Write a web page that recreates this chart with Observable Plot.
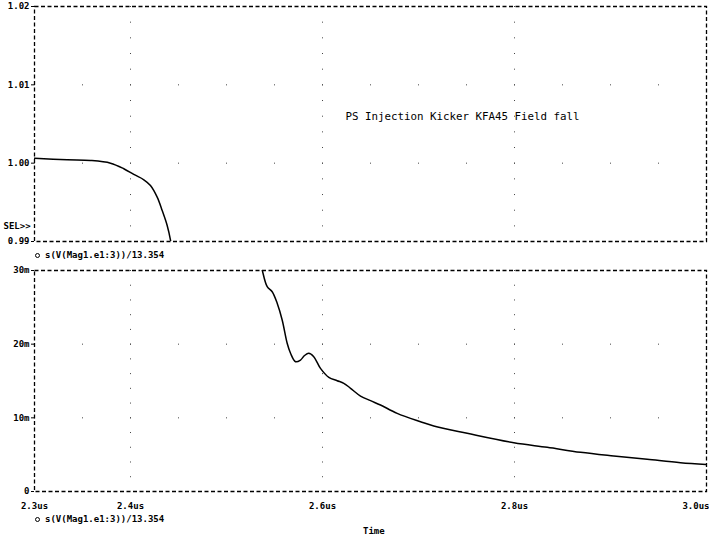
<!DOCTYPE html>
<html>
<head>
<meta charset="utf-8">
<script src="https://cdn.jsdelivr.net/npm/d3@7"></script>
<script src="https://cdn.jsdelivr.net/npm/@observablehq/plot@0.6"></script>
<style>
  html, body { margin: 0; padding: 0; background: #fff; }
  #wrap { position: relative; width: 709px; height: 543px; background: #fff; overflow: hidden; }
  #wrap > div.panel { position: absolute; left: 0; }
  #wrap svg text { font-weight: bold; }
  #wrap svg text.ttl, #wrap svg .ttl text { font-weight: normal; }
  .lbl { position: absolute; font-family: "DejaVu Sans Mono", monospace; font-size: 9px; font-weight: bold; color: #000; white-space: pre; }
  .mk { display: inline-block; width: 3px; height: 3px; border: 1.5px solid #000; border-radius: 50%; margin-right: 5px; vertical-align: 0px; }
</style>
</head>
<body>
<div id="wrap">
  <div class="panel" id="top" style="top:0"></div>
  <div class="panel" id="bot" style="top:264px"></div>
  <div class="lbl" id="leg1" style="left:35px; top:250px"></div>
  <div class="lbl" id="leg2" style="left:35px; top:514px"></div>
  <div class="lbl" id="xlab" style="left:363px; top:526px"></div>
</div>
<script>
// ---- data ----
const xDomain = [2.3, 3.0];
const xTicks = [2.3, 2.4, 2.6, 2.8];
const xTickLast = [3.0];
const xTickLabels = {"2.3": "2.3us", "2.4": "2.4us", "2.6": "2.6us", "2.8": "2.8us", "3": "3.0us"};
const xGrid = [2.4, 2.6, 2.8];

const topDomain = [0.99, 1.02];
const topTicks = [0.99, 1.00, 1.01, 1.02];
const topTickLabels = ["0.99", "1.00", "1.01", "1.02"];
const topGridY = [1.00, 1.01];

const botDomain = [0, 30];
const botTicks = [0, 10, 20, 30];
const botTickLabels = ["0", "10m", "20m", "30m"];
const botGridY = [10, 20];

const traceName = "s(V(Mag1.e1:3))/13.354";
const titleText = "PS Injection Kicker KFA45 Field fall";
const selText = "SEL>>";
const xAxisTitle = "Time";

// upper panel trace (time in us, value)
const topTime = [2.300, 2.3341, 2.3583, 2.3792, 2.3930, 2.4034, 2.4139, 2.4208, 2.4278, 2.4330, 2.4382, 2.4417, 2.4432];
const topVal  = [1.00064, 1.00043, 1.00034, 1.00000, 0.99929, 0.99856, 0.99788, 0.99715, 0.99566, 0.99396, 0.99205, 0.99014, 0.98880];

// lower panel trace (time in us, value in m)
const botTime = [2.5359, 2.5372, 2.5424, 2.5476, 2.5528, 2.5580, 2.5632, 2.5667, 2.5719, 2.5771, 2.5813, 2.5857, 2.5909, 2.5979, 2.6066, 2.6153, 2.6222, 2.6292, 2.6396, 2.6500, 2.6604, 2.6778, 2.7021, 2.7159, 2.7507, 2.7993, 2.8341, 2.8688, 2.9034, 2.9382, 2.9729, 3.0000];
const botVal  = [30.75, 30.07, 27.80, 27.12, 25.55, 23.28, 20.12, 18.76, 17.62, 17.85, 18.46, 18.76, 18.30, 16.72, 15.50, 15.04, 14.69, 14.01, 12.96, 12.33, 11.74, 10.61, 9.47, 8.89, 7.90, 6.62, 6.00, 5.32, 4.82, 4.37, 3.91, 3.67];

// ---- build ----
const topData = topTime.map((t, i) => ({t, v: topVal[i]}));
const botData = botTime.map((t, i) => ({t, v: botVal[i]}));

const font = {fontFamily: "DejaVu Sans Mono, monospace", fontSize: "9px", fontWeight: "bold", color: "#000", background: "#fff", overflow: "visible"};
const frameDash = "4,2.5";

const topPlot = Plot.plot({
  width: 709, height: 243,
  marginTop: 6, marginBottom: 2, marginLeft: 34, marginRight: 3,
  style: font,
  x: {domain: xDomain, axis: null},
  y: {domain: topDomain, label: null},
  marks: [
    Plot.ruleX(xGrid, {stroke: "#444", strokeWidth: 1, strokeDasharray: "1,14.67"}),
    Plot.ruleY(topGridY, {stroke: "#444", strokeWidth: 1, strokeDasharray: "1,47"}),
    Plot.frame({stroke: "#000", strokeWidth: 1.3, strokeDasharray: frameDash}),
    Plot.axisY(topTicks, {tickSize: 3, tickPadding: 2, label: null, tickFormat: d => topTickLabels[topTicks.indexOf(d)]}),
    Plot.line(topData, {x: "t", y: "v", curve: "catmull-rom", stroke: "#000", strokeWidth: 1.5, clip: true}),
    Plot.text([titleText], {x: 2.624, y: 1.00596, text: d => d, textAnchor: "start", lineAnchor: "middle", fontSize: 10.8, className: "ttl"}),
    Plot.text([selText], {frameAnchor: "bottom-left", dx: -31, dy: -13, text: d => d, textAnchor: "start", fontSize: 9})
  ]
});
document.getElementById("top").appendChild(topPlot);

const fmtX = d => xTickLabels[String(+d.toFixed(1))];
const botPlot = Plot.plot({
  width: 709, height: 249,
  marginTop: 6, marginBottom: 22, marginLeft: 34, marginRight: 3,
  style: font,
  x: {domain: xDomain, label: null},
  y: {domain: botDomain, label: null},
  marks: [
    Plot.ruleX(xGrid, {stroke: "#444", strokeWidth: 1, strokeDasharray: "1,13.73"}),
    Plot.ruleY(botGridY, {stroke: "#444", strokeWidth: 1, strokeDasharray: "1,47"}),
    Plot.frame({stroke: "#000", strokeWidth: 1.3, strokeDasharray: frameDash}),
    Plot.axisY(botTicks, {tickSize: 3, tickPadding: 2, label: null, tickFormat: d => botTickLabels[botTicks.indexOf(d)]}),
    Plot.axisX(xTicks, {tickSize: 0, tickPadding: 11, tickFormat: fmtX, label: null}),
    Plot.axisX(xTickLast, {tickSize: 0, tickPadding: 11, tickFormat: fmtX, label: null, textAnchor: "end", dx: 3}),
    Plot.line(botData, {x: "t", y: "v", curve: "catmull-rom", stroke: "#000", strokeWidth: 1.5, clip: true})
  ]
});
document.getElementById("bot").appendChild(botPlot);

for (const id of ["leg1", "leg2"]) {
  const el = document.getElementById(id);
  const m = document.createElement("span"); m.className = "mk";
  el.appendChild(m);
  el.appendChild(document.createTextNode(traceName));
}
document.getElementById("xlab").textContent = xAxisTitle;
</script>
</body>
</html>
